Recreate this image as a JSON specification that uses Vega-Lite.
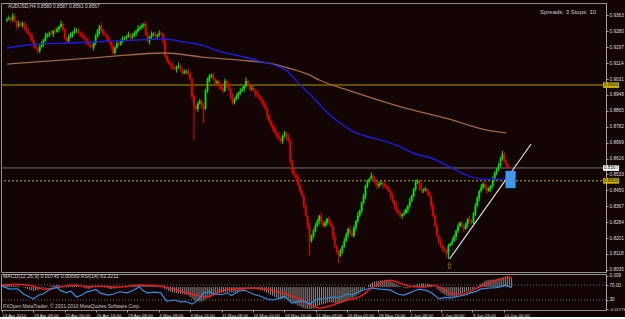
{
"$schema": "https://vega.github.io/schema/vega-lite/v6.json",
"background": "#140505",
"padding": {"left": -2, "top": 2, "right": 0, "bottom": 0},
"spacing": 2,
"bounds": "flush",
"config": {
  "view": {"stroke": "#909090", "strokeWidth": 1},
  "font": "Liberation Sans",
  "axis": {"domainColor": "#a0a0a0", "tickColor": "#a0a0a0", "labelColor": "#dcdcdc", "grid": false, "labelFont": "Liberation Sans", "labelOverlap": false, "labelSeparation": 0}
},
"datasets": {
"candles": [
{"i":0,"o":0.9338,"h":0.9352,"l":0.9328,"c":0.9344,"m":0.0020},
{"i":1,"o":0.9344,"h":0.9362,"l":0.9338,"c":0.9350,"m":0.0021},
{"i":2,"o":0.9350,"h":0.9356,"l":0.9326,"c":0.9341,"m":0.0020},
{"i":3,"o":0.9341,"h":0.9375,"l":0.9331,"c":0.9360,"m":0.0022},
{"i":4,"o":0.9360,"h":0.9370,"l":0.9327,"c":0.9332,"m":0.0019},
{"i":5,"o":0.9332,"h":0.9337,"l":0.9290,"c":0.9308,"m":0.0015},
{"i":6,"o":0.9308,"h":0.9336,"l":0.9299,"c":0.9318,"m":0.0013},
{"i":7,"o":0.9318,"h":0.9327,"l":0.9304,"c":0.9312,"m":0.0011},
{"i":8,"o":0.9312,"h":0.9331,"l":0.9300,"c":0.9323,"m":0.0010},
{"i":9,"o":0.9323,"h":0.9329,"l":0.9286,"c":0.9301,"m":0.0006},
{"i":10,"o":0.9301,"h":0.9316,"l":0.9272,"c":0.9282,"m":0.0002},
{"i":11,"o":0.9282,"h":0.9292,"l":0.9265,"c":0.9270,"m":-0.0003},
{"i":12,"o":0.9270,"h":0.9275,"l":0.9237,"c":0.9255,"m":-0.0008},
{"i":13,"o":0.9255,"h":0.9273,"l":0.9222,"c":0.9231,"m":-0.0014},
{"i":14,"o":0.9231,"h":0.9239,"l":0.9191,"c":0.9203,"m":-0.0020},
{"i":15,"o":0.9203,"h":0.9215,"l":0.9184,"c":0.9190,"m":-0.0025},
{"i":16,"o":0.9190,"h":0.9196,"l":0.9162,"c":0.9177,"m":-0.0030},
{"i":17,"o":0.9177,"h":0.9215,"l":0.9167,"c":0.9200,"m":-0.0028},
{"i":18,"o":0.9200,"h":0.9229,"l":0.9195,"c":0.9219,"m":-0.0024},
{"i":19,"o":0.9219,"h":0.9241,"l":0.9201,"c":0.9236,"m":-0.0019},
{"i":20,"o":0.9236,"h":0.9273,"l":0.9227,"c":0.9255,"m":-0.0013},
{"i":21,"o":0.9255,"h":0.9271,"l":0.9247,"c":0.9262,"m":-0.0008},
{"i":22,"o":0.9262,"h":0.9279,"l":0.9250,"c":0.9271,"m":-0.0004},
{"i":23,"o":0.9271,"h":0.9283,"l":0.9260,"c":0.9266,"m":0.0000},
{"i":24,"o":0.9266,"h":0.9288,"l":0.9251,"c":0.9282,"m":0.0004},
{"i":25,"o":0.9282,"h":0.9297,"l":0.9268,"c":0.9278,"m":0.0007},
{"i":26,"o":0.9278,"h":0.9302,"l":0.9273,"c":0.9292,"m":0.0011},
{"i":27,"o":0.9292,"h":0.9310,"l":0.9274,"c":0.9305,"m":0.0015},
{"i":28,"o":0.9305,"h":0.9336,"l":0.9296,"c":0.9318,"m":0.0019},
{"i":29,"o":0.9318,"h":0.9327,"l":0.9282,"c":0.9290,"m":0.0017},
{"i":30,"o":0.9290,"h":0.9298,"l":0.9233,"c":0.9245,"m":0.0010},
{"i":31,"o":0.9245,"h":0.9251,"l":0.9214,"c":0.9229,"m":0.0005},
{"i":32,"o":0.9229,"h":0.9265,"l":0.9219,"c":0.9250,"m":0.0004},
{"i":33,"o":0.9250,"h":0.9276,"l":0.9245,"c":0.9266,"m":0.0005},
{"i":34,"o":0.9266,"h":0.9280,"l":0.9248,"c":0.9275,"m":0.0007},
{"i":35,"o":0.9275,"h":0.9300,"l":0.9266,"c":0.9282,"m":0.0009},
{"i":36,"o":0.9282,"h":0.9296,"l":0.9272,"c":0.9288,"m":0.0011},
{"i":37,"o":0.9288,"h":0.9300,"l":0.9265,"c":0.9271,"m":0.0010},
{"i":38,"o":0.9271,"h":0.9277,"l":0.9250,"c":0.9265,"m":0.0008},
{"i":39,"o":0.9265,"h":0.9280,"l":0.9245,"c":0.9255,"m":0.0006},
{"i":40,"o":0.9255,"h":0.9265,"l":0.9237,"c":0.9242,"m":0.0002},
{"i":41,"o":0.9242,"h":0.9247,"l":0.9211,"c":0.9229,"m":-0.0002},
{"i":42,"o":0.9229,"h":0.9247,"l":0.9205,"c":0.9214,"m":-0.0007},
{"i":43,"o":0.9214,"h":0.9222,"l":0.9195,"c":0.9203,"m":-0.0011},
{"i":44,"o":0.9203,"h":0.9215,"l":0.9189,"c":0.9195,"m":-0.0014},
{"i":45,"o":0.9195,"h":0.9225,"l":0.9180,"c":0.9219,"m":-0.0012},
{"i":46,"o":0.9219,"h":0.9267,"l":0.9209,"c":0.9252,"m":-0.0007},
{"i":47,"o":0.9252,"h":0.9292,"l":0.9247,"c":0.9282,"m":0.0000},
{"i":48,"o":0.9282,"h":0.9313,"l":0.9264,"c":0.9308,"m":0.0006},
{"i":49,"o":0.9308,"h":0.9326,"l":0.9276,"c":0.9285,"m":0.0006},
{"i":50,"o":0.9285,"h":0.9293,"l":0.9258,"c":0.9266,"m":0.0004},
{"i":51,"o":0.9266,"h":0.9278,"l":0.9252,"c":0.9258,"m":0.0002},
{"i":52,"o":0.9258,"h":0.9264,"l":0.9225,"c":0.9240,"m":-0.0001},
{"i":53,"o":0.9240,"h":0.9255,"l":0.9215,"c":0.9225,"m":-0.0004},
{"i":54,"o":0.9225,"h":0.9230,"l":0.9185,"c":0.9203,"m":-0.0009},
{"i":55,"o":0.9203,"h":0.9221,"l":0.9158,"c":0.9167,"m":-0.0015},
{"i":56,"o":0.9167,"h":0.9203,"l":0.9159,"c":0.9195,"m":-0.0015},
{"i":57,"o":0.9195,"h":0.9231,"l":0.9189,"c":0.9219,"m":-0.0012},
{"i":58,"o":0.9219,"h":0.9225,"l":0.9200,"c":0.9210,"m":-0.0011},
{"i":59,"o":0.9210,"h":0.9239,"l":0.9205,"c":0.9229,"m":-0.0008},
{"i":60,"o":0.9229,"h":0.9256,"l":0.9220,"c":0.9238,"m":-0.0006},
{"i":61,"o":0.9238,"h":0.9254,"l":0.9230,"c":0.9245,"m":-0.0003},
{"i":62,"o":0.9245,"h":0.9260,"l":0.9235,"c":0.9252,"m":-0.0001},
{"i":63,"o":0.9252,"h":0.9278,"l":0.9246,"c":0.9266,"m":0.0002},
{"i":64,"o":0.9266,"h":0.9272,"l":0.9233,"c":0.9248,"m":0.0002},
{"i":65,"o":0.9248,"h":0.9270,"l":0.9238,"c":0.9255,"m":0.0003},
{"i":66,"o":0.9255,"h":0.9280,"l":0.9250,"c":0.9270,"m":0.0006},
{"i":67,"o":0.9270,"h":0.9287,"l":0.9252,"c":0.9282,"m":0.0009},
{"i":68,"o":0.9282,"h":0.9312,"l":0.9273,"c":0.9294,"m":0.0013},
{"i":69,"o":0.9294,"h":0.9311,"l":0.9286,"c":0.9302,"m":0.0016},
{"i":70,"o":0.9302,"h":0.9321,"l":0.9290,"c":0.9313,"m":0.0019},
{"i":71,"o":0.9313,"h":0.9324,"l":0.9298,"c":0.9318,"m":0.0022},
{"i":72,"o":0.9318,"h":0.9333,"l":0.9256,"c":0.9266,"m":0.0018},
{"i":73,"o":0.9266,"h":0.9276,"l":0.9224,"c":0.9229,"m":0.0012},
{"i":74,"o":0.9229,"h":0.9255,"l":0.9211,"c":0.9250,"m":0.0011},
{"i":75,"o":0.9250,"h":0.9280,"l":0.9241,"c":0.9262,"m":0.0011},
{"i":76,"o":0.9262,"h":0.9275,"l":0.9254,"c":0.9266,"m":0.0011},
{"i":77,"o":0.9266,"h":0.9278,"l":0.9243,"c":0.9255,"m":0.0010},
{"i":78,"o":0.9255,"h":0.9267,"l":0.9240,"c":0.9261,"m":0.0010},
{"i":79,"o":0.9261,"h":0.9285,"l":0.9251,"c":0.9270,"m":0.0011},
{"i":80,"o":0.9270,"h":0.9280,"l":0.9261,"c":0.9266,"m":0.0011},
{"i":81,"o":0.9266,"h":0.9271,"l":0.9211,"c":0.9229,"m":0.0007},
{"i":82,"o":0.9229,"h":0.9247,"l":0.9142,"c":0.9151,"m":-0.0004},
{"i":83,"o":0.9151,"h":0.9159,"l":0.9117,"c":0.9125,"m":-0.0014},
{"i":84,"o":0.9125,"h":0.9137,"l":0.9106,"c":0.9112,"m":-0.0023},
{"i":85,"o":0.9112,"h":0.9118,"l":0.9084,"c":0.9099,"m":-0.0031},
{"i":86,"o":0.9099,"h":0.9114,"l":0.9080,"c":0.9090,"m":-0.0038},
{"i":87,"o":0.9090,"h":0.9100,"l":0.9078,"c":0.9083,"m":-0.0043},
{"i":88,"o":0.9083,"h":0.9100,"l":0.9065,"c":0.9095,"m":-0.0046},
{"i":89,"o":0.9095,"h":0.9117,"l":0.9086,"c":0.9099,"m":-0.0048},
{"i":90,"o":0.9099,"h":0.9108,"l":0.9070,"c":0.9078,"m":-0.0052},
{"i":91,"o":0.9078,"h":0.9086,"l":0.9050,"c":0.9062,"m":-0.0056},
{"i":92,"o":0.9062,"h":0.9082,"l":0.9057,"c":0.9070,"m":-0.0058},
{"i":93,"o":0.9070,"h":0.9079,"l":0.9058,"c":0.9073,"m":-0.0059},
{"i":94,"o":0.9073,"h":0.9088,"l":0.9048,"c":0.9058,"m":-0.0062},
{"i":95,"o":0.9058,"h":0.9068,"l":0.9026,"c":0.9031,"m":-0.0067},
{"i":96,"o":0.9031,"h":0.9036,"l":0.8925,"c":0.8943,"m":-0.0080},
{"i":97,"o":0.8943,"h":0.8952,"l":0.8710,"c":0.8890,"m":-0.0094},
{"i":98,"o":0.8890,"h":0.8898,"l":0.8863,"c":0.8875,"m":-0.0106},
{"i":99,"o":0.8875,"h":0.8914,"l":0.8860,"c":0.8902,"m":-0.0111},
{"i":100,"o":0.8902,"h":0.8926,"l":0.8897,"c":0.8916,"m":-0.0113},
{"i":101,"o":0.8916,"h":0.8922,"l":0.8875,"c":0.8890,"m":-0.0116},
{"i":102,"o":0.8890,"h":0.8905,"l":0.8800,"c":0.8875,"m":-0.0118},
{"i":103,"o":0.8875,"h":0.8979,"l":0.8870,"c":0.8969,"m":-0.0110},
{"i":104,"o":0.8969,"h":0.9039,"l":0.8960,"c":0.9021,"m":-0.0098},
{"i":105,"o":0.9021,"h":0.9056,"l":0.9013,"c":0.9047,"m":-0.0085},
{"i":106,"o":0.9047,"h":0.9060,"l":0.9035,"c":0.9052,"m":-0.0074},
{"i":107,"o":0.9052,"h":0.9064,"l":0.9024,"c":0.9030,"m":-0.0067},
{"i":108,"o":0.9030,"h":0.9036,"l":0.8995,"c":0.9010,"m":-0.0062},
{"i":109,"o":0.9010,"h":0.9028,"l":0.9005,"c":0.9018,"m":-0.0056},
{"i":110,"o":0.9018,"h":0.9023,"l":0.8977,"c":0.8995,"m":-0.0053},
{"i":111,"o":0.8995,"h":0.9013,"l":0.8973,"c":0.8982,"m":-0.0051},
{"i":112,"o":0.8982,"h":0.8990,"l":0.8957,"c":0.8969,"m":-0.0050},
{"i":113,"o":0.8969,"h":0.9033,"l":0.8963,"c":0.9021,"m":-0.0043},
{"i":114,"o":0.9021,"h":0.9027,"l":0.8985,"c":0.9000,"m":-0.0040},
{"i":115,"o":0.9000,"h":0.9015,"l":0.8969,"c":0.8979,"m":-0.0039},
{"i":116,"o":0.8979,"h":0.8984,"l":0.8922,"c":0.8940,"m":-0.0042},
{"i":117,"o":0.8940,"h":0.8958,"l":0.8897,"c":0.8906,"m":-0.0046},
{"i":118,"o":0.8906,"h":0.8933,"l":0.8898,"c":0.8925,"m":-0.0045},
{"i":119,"o":0.8925,"h":0.8955,"l":0.8920,"c":0.8943,"m":-0.0042},
{"i":120,"o":0.8943,"h":0.8964,"l":0.8928,"c":0.8958,"m":-0.0038},
{"i":121,"o":0.8958,"h":0.8984,"l":0.8948,"c":0.8969,"m":-0.0034},
{"i":122,"o":0.8969,"h":0.8990,"l":0.8964,"c":0.8980,"m":-0.0030},
{"i":123,"o":0.8980,"h":0.9000,"l":0.8962,"c":0.8995,"m":-0.0025},
{"i":124,"o":0.8995,"h":0.9039,"l":0.8986,"c":0.9021,"m":-0.0019},
{"i":125,"o":0.9021,"h":0.9029,"l":0.8990,"c":0.8998,"m":-0.0017},
{"i":126,"o":0.8998,"h":0.9006,"l":0.8967,"c":0.8979,"m":-0.0016},
{"i":127,"o":0.8979,"h":0.9000,"l":0.8969,"c":0.8985,"m":-0.0014},
{"i":128,"o":0.8985,"h":0.8995,"l":0.8964,"c":0.8969,"m":-0.0014},
{"i":129,"o":0.8969,"h":0.8974,"l":0.8937,"c":0.8955,"m":-0.0015},
{"i":130,"o":0.8955,"h":0.8973,"l":0.8934,"c":0.8943,"m":-0.0017},
{"i":131,"o":0.8943,"h":0.8951,"l":0.8922,"c":0.8930,"m":-0.0020},
{"i":132,"o":0.8930,"h":0.8942,"l":0.8904,"c":0.8916,"m":-0.0024},
{"i":133,"o":0.8916,"h":0.8926,"l":0.8888,"c":0.8898,"m":-0.0029},
{"i":134,"o":0.8898,"h":0.8913,"l":0.8870,"c":0.8875,"m":-0.0035},
{"i":135,"o":0.8875,"h":0.8885,"l":0.8822,"c":0.8840,"m":-0.0044},
{"i":136,"o":0.8840,"h":0.8845,"l":0.8803,"c":0.8812,"m":-0.0053},
{"i":137,"o":0.8812,"h":0.8820,"l":0.8778,"c":0.8790,"m":-0.0062},
{"i":138,"o":0.8790,"h":0.8802,"l":0.8755,"c":0.8770,"m":-0.0070},
{"i":139,"o":0.8770,"h":0.8785,"l":0.8742,"c":0.8752,"m":-0.0078},
{"i":140,"o":0.8752,"h":0.8757,"l":0.8716,"c":0.8734,"m":-0.0085},
{"i":141,"o":0.8734,"h":0.8752,"l":0.8711,"c":0.8720,"m":-0.0091},
{"i":142,"o":0.8720,"h":0.8728,"l":0.8696,"c":0.8708,"m":-0.0096},
{"i":143,"o":0.8708,"h":0.8741,"l":0.8693,"c":0.8735,"m":-0.0095},
{"i":144,"o":0.8735,"h":0.8760,"l":0.8725,"c":0.8750,"m":-0.0092},
{"i":145,"o":0.8750,"h":0.8755,"l":0.8710,"c":0.8728,"m":-0.0093},
{"i":146,"o":0.8728,"h":0.8746,"l":0.8699,"c":0.8708,"m":-0.0095},
{"i":147,"o":0.8708,"h":0.8716,"l":0.8590,"c":0.8603,"m":-0.0109},
{"i":148,"o":0.8603,"h":0.8609,"l":0.8536,"c":0.8551,"m":-0.0122},
{"i":149,"o":0.8551,"h":0.8566,"l":0.8520,"c":0.8530,"m":-0.0132},
{"i":150,"o":0.8530,"h":0.8535,"l":0.8497,"c":0.8515,"m":-0.0140},
{"i":151,"o":0.8515,"h":0.8533,"l":0.8471,"c":0.8480,"m":-0.0149},
{"i":152,"o":0.8480,"h":0.8488,"l":0.8435,"c":0.8447,"m":-0.0156},
{"i":153,"o":0.8447,"h":0.8459,"l":0.8415,"c":0.8421,"m":-0.0163},
{"i":154,"o":0.8421,"h":0.8427,"l":0.8355,"c":0.8370,"m":-0.0170},
{"i":155,"o":0.8370,"h":0.8380,"l":0.8312,"c":0.8317,"m":-0.0174},
{"i":156,"o":0.8317,"h":0.8322,"l":0.8246,"c":0.8264,"m":-0.0176},
{"i":157,"o":0.8264,"h":0.8282,"l":0.8110,"c":0.8186,"m":-0.0178},
{"i":158,"o":0.8186,"h":0.8220,"l":0.8178,"c":0.8212,"m":-0.0175},
{"i":159,"o":0.8212,"h":0.8248,"l":0.8200,"c":0.8240,"m":-0.0170},
{"i":160,"o":0.8240,"h":0.8279,"l":0.8230,"c":0.8264,"m":-0.0163},
{"i":161,"o":0.8264,"h":0.8300,"l":0.8259,"c":0.8290,"m":-0.0155},
{"i":162,"o":0.8290,"h":0.8322,"l":0.8272,"c":0.8317,"m":-0.0146},
{"i":163,"o":0.8317,"h":0.8335,"l":0.8276,"c":0.8285,"m":-0.0142},
{"i":164,"o":0.8285,"h":0.8293,"l":0.8256,"c":0.8264,"m":-0.0139},
{"i":165,"o":0.8264,"h":0.8292,"l":0.8258,"c":0.8280,"m":-0.0134},
{"i":166,"o":0.8280,"h":0.8307,"l":0.8265,"c":0.8301,"m":-0.0128},
{"i":167,"o":0.8301,"h":0.8316,"l":0.8272,"c":0.8282,"m":-0.0125},
{"i":168,"o":0.8282,"h":0.8292,"l":0.8259,"c":0.8264,"m":-0.0124},
{"i":169,"o":0.8264,"h":0.8269,"l":0.8194,"c":0.8212,"m":-0.0126},
{"i":170,"o":0.8212,"h":0.8230,"l":0.8151,"c":0.8160,"m":-0.0130},
{"i":171,"o":0.8160,"h":0.8168,"l":0.8122,"c":0.8130,"m":-0.0133},
{"i":172,"o":0.8130,"h":0.8142,"l":0.8070,"c":0.8108,"m":-0.0134},
{"i":173,"o":0.8108,"h":0.8144,"l":0.8103,"c":0.8134,"m":-0.0131},
{"i":174,"o":0.8134,"h":0.8165,"l":0.8119,"c":0.8160,"m":-0.0125},
{"i":175,"o":0.8160,"h":0.8201,"l":0.8150,"c":0.8186,"m":-0.0118},
{"i":176,"o":0.8186,"h":0.8230,"l":0.8181,"c":0.8220,"m":-0.0109},
{"i":177,"o":0.8220,"h":0.8255,"l":0.8202,"c":0.8249,"m":-0.0099},
{"i":178,"o":0.8249,"h":0.8267,"l":0.8221,"c":0.8230,"m":-0.0092},
{"i":179,"o":0.8230,"h":0.8238,"l":0.8204,"c":0.8212,"m":-0.0087},
{"i":180,"o":0.8212,"h":0.8267,"l":0.8206,"c":0.8255,"m":-0.0078},
{"i":181,"o":0.8255,"h":0.8295,"l":0.8237,"c":0.8290,"m":-0.0067},
{"i":182,"o":0.8290,"h":0.8336,"l":0.8281,"c":0.8318,"m":-0.0055},
{"i":183,"o":0.8318,"h":0.8351,"l":0.8310,"c":0.8343,"m":-0.0043},
{"i":184,"o":0.8343,"h":0.8393,"l":0.8331,"c":0.8385,"m":-0.0029},
{"i":185,"o":0.8385,"h":0.8433,"l":0.8379,"c":0.8421,"m":-0.0015},
{"i":186,"o":0.8421,"h":0.8479,"l":0.8406,"c":0.8473,"m":0.0001},
{"i":187,"o":0.8473,"h":0.8505,"l":0.8463,"c":0.8495,"m":0.0015},
{"i":188,"o":0.8495,"h":0.8515,"l":0.8490,"c":0.8510,"m":0.0027},
{"i":189,"o":0.8510,"h":0.8543,"l":0.8508,"c":0.8525,"m":0.0038},
{"i":190,"o":0.8525,"h":0.8534,"l":0.8502,"c":0.8510,"m":0.0045},
{"i":191,"o":0.8510,"h":0.8518,"l":0.8478,"c":0.8490,"m":0.0049},
{"i":192,"o":0.8490,"h":0.8496,"l":0.8458,"c":0.8473,"m":0.0051},
{"i":193,"o":0.8473,"h":0.8497,"l":0.8463,"c":0.8482,"m":0.0054},
{"i":194,"o":0.8482,"h":0.8499,"l":0.8477,"c":0.8489,"m":0.0056},
{"i":195,"o":0.8489,"h":0.8494,"l":0.8462,"c":0.8480,"m":0.0056},
{"i":196,"o":0.8480,"h":0.8498,"l":0.8464,"c":0.8473,"m":0.0055},
{"i":197,"o":0.8473,"h":0.8481,"l":0.8452,"c":0.8460,"m":0.0053},
{"i":198,"o":0.8460,"h":0.8472,"l":0.8441,"c":0.8447,"m":0.0049},
{"i":199,"o":0.8447,"h":0.8453,"l":0.8405,"c":0.8420,"m":0.0043},
{"i":200,"o":0.8420,"h":0.8435,"l":0.8385,"c":0.8395,"m":0.0035},
{"i":201,"o":0.8395,"h":0.8400,"l":0.8352,"c":0.8370,"m":0.0026},
{"i":202,"o":0.8370,"h":0.8388,"l":0.8334,"c":0.8343,"m":0.0016},
{"i":203,"o":0.8343,"h":0.8351,"l":0.8322,"c":0.8330,"m":0.0007},
{"i":204,"o":0.8330,"h":0.8342,"l":0.8305,"c":0.8317,"m":-0.0001},
{"i":205,"o":0.8317,"h":0.8331,"l":0.8302,"c":0.8325,"m":-0.0006},
{"i":206,"o":0.8325,"h":0.8347,"l":0.8315,"c":0.8332,"m":-0.0009},
{"i":207,"o":0.8332,"h":0.8360,"l":0.8327,"c":0.8350,"m":-0.0009},
{"i":208,"o":0.8350,"h":0.8374,"l":0.8332,"c":0.8369,"m":-0.0006},
{"i":209,"o":0.8369,"h":0.8413,"l":0.8360,"c":0.8395,"m":-0.0001},
{"i":210,"o":0.8395,"h":0.8429,"l":0.8387,"c":0.8421,"m":0.0006},
{"i":211,"o":0.8421,"h":0.8463,"l":0.8415,"c":0.8455,"m":0.0014},
{"i":212,"o":0.8455,"h":0.8504,"l":0.8445,"c":0.8489,"m":0.0022},
{"i":213,"o":0.8489,"h":0.8509,"l":0.8484,"c":0.8499,"m":0.0028},
{"i":214,"o":0.8499,"h":0.8504,"l":0.8452,"c":0.8470,"m":0.0030},
{"i":215,"o":0.8470,"h":0.8488,"l":0.8438,"c":0.8447,"m":0.0029},
{"i":216,"o":0.8447,"h":0.8460,"l":0.8435,"c":0.8452,"m":0.0028},
{"i":217,"o":0.8452,"h":0.8469,"l":0.8446,"c":0.8457,"m":0.0027},
{"i":218,"o":0.8457,"h":0.8463,"l":0.8425,"c":0.8440,"m":0.0024},
{"i":219,"o":0.8440,"h":0.8450,"l":0.8416,"c":0.8421,"m":0.0019},
{"i":220,"o":0.8421,"h":0.8426,"l":0.8352,"c":0.8370,"m":0.0010},
{"i":221,"o":0.8370,"h":0.8388,"l":0.8308,"c":0.8317,"m":-0.0002},
{"i":222,"o":0.8317,"h":0.8325,"l":0.8257,"c":0.8265,"m":-0.0016},
{"i":223,"o":0.8265,"h":0.8277,"l":0.8206,"c":0.8212,"m":-0.0030},
{"i":224,"o":0.8212,"h":0.8218,"l":0.8170,"c":0.8185,"m":-0.0043},
{"i":225,"o":0.8185,"h":0.8200,"l":0.8150,"c":0.8160,"m":-0.0054},
{"i":226,"o":0.8160,"h":0.8165,"l":0.8130,"c":0.8148,"m":-0.0063},
{"i":227,"o":0.8148,"h":0.8157,"l":0.8126,"c":0.8134,"m":-0.0071},
{"i":228,"o":0.8134,"h":0.8142,"l":0.8100,"c":0.8120,"m":-0.0078},
{"i":229,"o":0.8120,"h":0.8172,"l":0.8092,"c":0.8160,"m":-0.0080},
{"i":230,"o":0.8160,"h":0.8178,"l":0.8157,"c":0.8172,"m":-0.0080},
{"i":231,"o":0.8172,"h":0.8201,"l":0.8162,"c":0.8186,"m":-0.0078},
{"i":232,"o":0.8186,"h":0.8220,"l":0.8181,"c":0.8210,"m":-0.0073},
{"i":233,"o":0.8210,"h":0.8244,"l":0.8192,"c":0.8238,"m":-0.0066},
{"i":234,"o":0.8238,"h":0.8277,"l":0.8228,"c":0.8262,"m":-0.0057},
{"i":235,"o":0.8262,"h":0.8288,"l":0.8257,"c":0.8280,"m":-0.0048},
{"i":236,"o":0.8280,"h":0.8292,"l":0.8259,"c":0.8265,"m":-0.0042},
{"i":237,"o":0.8265,"h":0.8270,"l":0.8234,"c":0.8249,"m":-0.0038},
{"i":238,"o":0.8249,"h":0.8285,"l":0.8244,"c":0.8275,"m":-0.0031},
{"i":239,"o":0.8275,"h":0.8307,"l":0.8257,"c":0.8301,"m":-0.0022},
{"i":240,"o":0.8301,"h":0.8319,"l":0.8281,"c":0.8290,"m":-0.0016},
{"i":241,"o":0.8290,"h":0.8298,"l":0.8272,"c":0.8280,"m":-0.0011},
{"i":242,"o":0.8280,"h":0.8337,"l":0.8274,"c":0.8325,"m":-0.0002},
{"i":243,"o":0.8325,"h":0.8384,"l":0.8315,"c":0.8369,"m":0.0010},
{"i":244,"o":0.8369,"h":0.8420,"l":0.8364,"c":0.8410,"m":0.0023},
{"i":245,"o":0.8410,"h":0.8452,"l":0.8392,"c":0.8447,"m":0.0036},
{"i":246,"o":0.8447,"h":0.8483,"l":0.8438,"c":0.8465,"m":0.0046},
{"i":247,"o":0.8465,"h":0.8491,"l":0.8457,"c":0.8483,"m":0.0054},
{"i":248,"o":0.8483,"h":0.8491,"l":0.8457,"c":0.8465,"m":0.0058},
{"i":249,"o":0.8465,"h":0.8477,"l":0.8432,"c":0.8447,"m":0.0059},
{"i":250,"o":0.8447,"h":0.8470,"l":0.8442,"c":0.8460,"m":0.0060},
{"i":251,"o":0.8460,"h":0.8478,"l":0.8442,"c":0.8473,"m":0.0061},
{"i":252,"o":0.8473,"h":0.8523,"l":0.8464,"c":0.8505,"m":0.0063},
{"i":253,"o":0.8505,"h":0.8549,"l":0.8497,"c":0.8541,"m":0.0068},
{"i":254,"o":0.8541,"h":0.8568,"l":0.8529,"c":0.8560,"m":0.0072},
{"i":255,"o":0.8560,"h":0.8592,"l":0.8550,"c":0.8577,"m":0.0077},
{"i":256,"o":0.8577,"h":0.8624,"l":0.8572,"c":0.8614,"m":0.0083},
{"i":257,"o":0.8614,"h":0.8656,"l":0.8605,"c":0.8640,"m":0.0089},
{"i":258,"o":0.8640,"h":0.8649,"l":0.8595,"c":0.8603,"m":0.0088},
{"i":259,"o":0.8603,"h":0.8610,"l":0.8572,"c":0.8580,"m":0.0083},
{"i":260,"o":0.8580,"h":0.8587,"l":0.8561,"c":0.8567,"m":0.00745}
],
"blue": [
{"i":0,"v":0.9193},{"i":16,"v":0.9214},{"i":33,"v":0.9219},{"i":50,"v":0.9227},{"i":67,"v":0.9235},{"i":81,"v":0.9240},{"i":92,"v":0.9224},{"i":101,"v":0.9208},{"i":110,"v":0.9177},{"i":121,"v":0.9151},{"i":131,"v":0.9125},{"i":145,"v":0.9075},{"i":152,"v":0.9002},{"i":159,"v":0.8932},{"i":167,"v":0.8849},{"i":175,"v":0.8786},{"i":180,"v":0.8755},{"i":186,"v":0.8734},{"i":195,"v":0.8710},{"i":203,"v":0.8682},{"i":212,"v":0.8640},{"i":220,"v":0.8619},{"i":229,"v":0.8577},{"i":237,"v":0.8535},{"i":245,"v":0.8510},{"i":252,"v":0.8508},{"i":260,"v":0.8510}
],
"brown": [
{"i":0,"v":0.9109},{"i":21,"v":0.9125},{"i":50,"v":0.9146},{"i":82,"v":0.9167},{"i":101,"v":0.9146},{"i":121,"v":0.9130},{"i":135,"v":0.9115},{"i":148,"v":0.9083},{"i":156,"v":0.9057},{"i":162,"v":0.9026},{"i":178,"v":0.8969},{"i":203,"v":0.8890},{"i":229,"v":0.8823},{"i":249,"v":0.8765},{"i":259,"v":0.8750}
],
"rsi": [
{"i":0,"r":67},{"i":4,"r":59},{"i":8,"r":60},{"i":11,"r":46},{"i":14,"r":38},{"i":16,"r":33},{"i":19,"r":44},{"i":21,"r":46},{"i":24,"r":57},{"i":28,"r":64},{"i":30,"r":55},{"i":33,"r":49},{"i":35,"r":54},{"i":38,"r":38},{"i":41,"r":44},{"i":43,"r":51},{"i":46,"r":55},{"i":48,"r":58},{"i":50,"r":49},{"i":54,"r":43},{"i":57,"r":46},{"i":60,"r":52},{"i":64,"r":49},{"i":67,"r":56},{"i":70,"r":65},{"i":72,"r":55},{"i":74,"r":49},{"i":78,"r":51},{"i":81,"r":49},{"i":84,"r":27},{"i":88,"r":30},{"i":91,"r":25},{"i":94,"r":26},{"i":97,"r":19},{"i":100,"r":30},{"i":103,"r":49},{"i":106,"r":52},{"i":108,"r":46},{"i":112,"r":44},{"i":115,"r":49},{"i":117,"r":42},{"i":121,"r":54},{"i":124,"r":56},{"i":128,"r":46},{"i":132,"r":40},{"i":135,"r":33},{"i":138,"r":30},{"i":142,"r":35},{"i":144,"r":40},{"i":148,"r":22},{"i":152,"r":27},{"i":155,"r":25},{"i":157,"r":19},{"i":160,"r":30},{"i":162,"r":33},{"i":165,"r":34},{"i":169,"r":38},{"i":172,"r":36},{"i":176,"r":46},{"i":179,"r":44},{"i":183,"r":54},{"i":188,"r":62},{"i":193,"r":59},{"i":198,"r":57},{"i":202,"r":46},{"i":205,"r":43},{"i":208,"r":49},{"i":210,"r":54},{"i":213,"r":59},{"i":217,"r":55},{"i":220,"r":46},{"i":223,"r":33},{"i":226,"r":37},{"i":229,"r":35},{"i":232,"r":39},{"i":234,"r":41},{"i":237,"r":44},{"i":239,"r":49},{"i":242,"r":53},{"i":244,"r":59},{"i":247,"r":61},{"i":249,"r":62},{"i":252,"r":63},{"i":254,"r":65},{"i":257,"r":70},{"i":259,"r":65},{"i":260,"r":63.32}
],
"sig": [
{"i":0,"s":0.0016},{"i":6,"s":0.0024},{"i":16,"s":0.0008},{"i":21,"s":-0.0016},{"i":30,"s":0},{"i":36,"s":0.0016},{"i":44,"s":0.0004},{"i":50,"s":0.0008},{"i":59,"s":0},{"i":70,"s":0.0016},{"i":81,"s":0.0008},{"i":91,"s":-0.0032},{"i":101,"s":-0.0073},{"i":105,"s":-0.0081},{"i":111,"s":-0.0032},{"i":118,"s":-0.0016},{"i":128,"s":-0.0008},{"i":135,"s":-0.0016},{"i":145,"s":-0.0057},{"i":152,"s":-0.0097},{"i":157,"s":-0.0138},{"i":162,"s":-0.0170},{"i":167,"s":-0.0154},{"i":174,"s":-0.0114},{"i":183,"s":-0.0073},{"i":188,"s":-0.0016},{"i":193,"s":0.0032},{"i":198,"s":0.0057},{"i":203,"s":0.0032},{"i":208,"s":0.0008},{"i":215,"s":0},{"i":220,"s":0.0016},{"i":225,"s":-0.0016},{"i":230,"s":-0.0057},{"i":235,"s":-0.0057},{"i":240,"s":-0.0024},{"i":247,"s":0.0024},{"i":254,"s":0.0065},{"i":260,"s":0.0081}
]
},
"vconcat": [
{
  "width": 605, "height": 269,
  "resolve": {"axis": {"x": "independent", "y": "independent"}},
  "layer": [
    {
      "data": {"values": [{"p": 0.9}]},
      "mark": {"type": "rule", "color": "#b09a00", "strokeWidth": 1},
      "encoding": {"y": {"field": "p", "type": "quantitative", "scale": {"domain": [0.8024, 0.9428], "nice": false, "zero": false}, "axis": {"orient": "right", "title": null, "values": [0.8035,0.8118,0.8201,0.8284,0.8367,0.845,0.8533,0.8616,0.8699,0.8782,0.8865,0.8948,0.9031,0.9114,0.9197,0.928,0.9363], "format": ".4f", "labelFontSize": 4.7, "tickSize": 2, "labelPadding": 1, "labelFlush": false, "labelOverlap": false}}}
    },
    {
      "data": {"values": [{"p": 0.8567}]},
      "mark": {"type": "rule", "color": "#707070", "strokeWidth": 1},
      "encoding": {"y": {"field": "p", "type": "quantitative", "axis": null}}
    },
    {
      "data": {"values": [{"p": 0.85}]},
      "mark": {"type": "rule", "color": "#c0aa00", "strokeWidth": 1, "strokeDash": [2, 2]},
      "encoding": {"y": {"field": "p", "type": "quantitative", "axis": null}}
    },
    {
      "data": {"name": "candles"},
      "mark": {"type": "rule", "strokeWidth": 1},
      "encoding": {
        "x": {"field": "i", "type": "quantitative", "scale": {"domain": [-0.51, 308.16], "nice": false, "zero": false}, "axis": null},
        "y": {"field": "l", "type": "quantitative", "axis": null},
        "y2": {"field": "h"},
        "color": {"condition": {"test": "datum.c >= datum.o", "value": "#00e800"}, "value": "#e80000"}
      }
    },
    {
      "data": {"name": "candles"},
      "mark": {"type": "bar", "width": 1.8},
      "encoding": {
        "x": {"field": "i", "type": "quantitative", "axis": null},
        "y": {"field": "o", "type": "quantitative", "axis": null},
        "y2": {"field": "c"},
        "color": {"condition": {"test": "datum.c >= datum.o", "value": "#00e800"}, "value": "#e80000"}
      }
    },
    {
      "data": {"name": "brown"},
      "mark": {"type": "line", "color": "#a0683f", "strokeWidth": 1.3, "interpolate": "monotone"},
      "encoding": {"x": {"field": "i", "type": "quantitative", "axis": null}, "y": {"field": "v", "type": "quantitative", "axis": null}}
    },
    {
      "data": {"name": "blue"},
      "mark": {"type": "line", "color": "#1a1ae8", "strokeWidth": 1.4, "interpolate": "monotone"},
      "encoding": {"x": {"field": "i", "type": "quantitative", "axis": null}, "y": {"field": "v", "type": "quantitative", "axis": null}}
    },
    {
      "data": {"values": [{"i": 229.6, "p": 0.8092}, {"i": 271.9, "p": 0.8692}]},
      "mark": {"type": "line", "color": "#e8e8e8", "strokeWidth": 1.1},
      "encoding": {"x": {"field": "i", "type": "quantitative", "axis": null}, "y": {"field": "p", "type": "quantitative", "axis": null}}
    },
    {
      "data": {"values": [{"i": 258.7, "i2": 263.8, "p": 0.8551, "p2": 0.8463}]},
      "mark": {"type": "rect", "fill": "#3f97ea", "stroke": "#2f80d0", "strokeWidth": 0.5},
      "encoding": {"x": {"field": "i", "type": "quantitative", "axis": null}, "x2": {"field": "i2"}, "y": {"field": "p", "type": "quantitative", "axis": null}, "y2": {"field": "p2"}}
    },
    {
      "data": {"values": [{"i": 229.6, "p": 0.8092}]},
      "mark": {"type": "text", "text": "⇧", "font": "DejaVu Sans", "fontSize": 9, "color": "#a89400", "baseline": "top", "dy": 3},
      "encoding": {"x": {"field": "i", "type": "quantitative", "axis": null}, "y": {"field": "p", "type": "quantitative", "axis": null}}
    },
    {
      "data": {"values": [{"p": 0.9, "k": "alert"}, {"p": 0.8567, "k": "bid"}, {"p": 0.85, "k": "alert"}]},
      "mark": {"type": "point", "shape": "M-1,-0.36L1,-0.36L1,0.36L-1,0.36Z", "size": 256, "filled": true, "opacity": 1, "strokeWidth": 0},
      "encoding": {
        "x": {"datum": 313.4, "type": "quantitative", "axis": null},
        "y": {"field": "p", "type": "quantitative", "axis": null},
        "color": {"field": "k", "type": "nominal", "scale": {"domain": ["alert", "bid"], "range": ["#d2ba00", "#ffffff"]}, "legend": null}
      }
    },
    {
      "data": {"values": [{"p": 0.9, "t": "0.9000"}, {"p": 0.8567, "t": "0.8567"}, {"p": 0.85, "t": "0.8500"}]},
      "mark": {"type": "text", "fontSize": 4.7, "color": "#000000", "align": "center", "baseline": "middle"},
      "encoding": {
        "x": {"datum": 313.4, "type": "quantitative", "axis": null},
        "y": {"field": "p", "type": "quantitative", "axis": null},
        "text": {"field": "t"}
      }
    },
    {
      "data": {"values": [{"t": "AUDUSD,H4 0.8580 0.8587 0.8561 0.8567"}]},
      "mark": {"type": "text", "fontSize": 4.8, "color": "#d4d4d4", "align": "left", "baseline": "middle"},
      "encoding": {
        "x": {"datum": 0.5, "type": "quantitative", "axis": null},
        "y": {"datum": 0.9407, "type": "quantitative", "axis": null},
        "text": {"field": "t"}
      }
    },
    {
      "data": {"values": [{"t": "Spreads: 3 Stops: 10"}]},
      "mark": {"type": "text", "fontSize": 6, "color": "#c8c8c8", "align": "right", "baseline": "middle"},
      "encoding": {
        "x": {"datum": 305.6, "type": "quantitative", "axis": null},
        "y": {"datum": 0.9383, "type": "quantitative", "axis": null},
        "text": {"field": "t"}
      }
    }
  ]
},
{
  "width": 605, "height": 36,
  "resolve": {"scale": {"y": "independent"}, "axis": {"x": "independent", "y": "independent"}},
  "layer": [
    {
      "data": {"name": "candles"},
      "mark": {"type": "rule", "color": "#a8a8a8", "strokeWidth": 0.8},
      "encoding": {
        "x": {"field": "i", "type": "quantitative", "scale": {"domain": [-0.51, 308.16], "nice": false, "zero": false}, "axis": {"orient": "bottom", "title": null, "values": [0,16,32,48,64,80,96,112,128,144,160,176,192,208,224,240,256], "labelExpr": "['14 Apr 2010','19 Apr 08:00','22 Apr 00:00','26 Apr 16:00','29 Apr 08:00','4 May 08:00','6 May 16:00','11 May 08:00','14 May 00:00','18 May 16:00','21 May 08:00','26 May 00:00','28 May 16:00','2 Jun 08:00','7 Jun 00:00','9 Jun 16:00','14 Jun 00:00'][round(datum.value/16)]", "labelAlign": "left", "labelBaseline": "top", "labelFontSize": 4.4, "tickSize": 2, "labelPadding": 1, "labelFlush": false, "labelOverlap": false, "domain": false}},
        "y": {"field": "m", "type": "quantitative", "scale": {"domain": [-0.01857, 0.01062], "nice": false, "zero": false}, "axis": {"orient": "right", "title": null, "values": [0.009, 0.0017, -0.01046, -0.01776], "labelExpr": "datum.value > 0.005 ? '0.009' : datum.value > 0 ? '70.00' : datum.value > -0.015 ? '30' : '-0.01776'", "labelFontSize": {"condition": {"test": "datum.value < -0.015", "value": 4.1}, "value": 4.7}, "tickSize": 2, "labelPadding": 1, "labelFlush": false, "labelOverlap": false}},
        "y2": {"datum": 0}
      }
    },
    {
      "data": {"values": [{"lv": 70}, {"lv": 30}]},
      "mark": {"type": "rule", "color": "#6a6a6a", "strokeWidth": 1, "strokeDash": [1, 2]},
      "encoding": {"y": {"field": "lv", "type": "quantitative", "scale": {"domain": [3.33, 99.33], "nice": false, "zero": false}, "axis": null}}
    },
    {
      "data": {"name": "sig"},
      "mark": {"type": "line", "color": "#ff1a1a", "strokeWidth": 1.3, "interpolate": "monotone"},
      "encoding": {
        "x": {"field": "i", "type": "quantitative", "axis": null},
        "y": {"field": "s", "type": "quantitative", "scale": {"domain": [-0.01857, 0.01062], "nice": false, "zero": false}, "axis": null}
      }
    },
    {
      "data": {"name": "rsi"},
      "mark": {"type": "line", "color": "#2d8ee8", "strokeWidth": 1.2},
      "encoding": {
        "x": {"field": "i", "type": "quantitative", "axis": null},
        "y": {"field": "r", "type": "quantitative", "scale": {"domain": [3.33, 99.33], "nice": false, "zero": false}, "axis": null}
      }
    },
    {
      "data": {"values": [{"t": "MACD(12,26,9) 0.00745 0.00669 RSI(14) 63.3211"}]},
      "mark": {"type": "text", "fontSize": 5.2, "color": "#d0d0d0", "align": "left", "baseline": "middle"},
      "encoding": {
        "x": {"datum": 0.5, "type": "quantitative", "axis": null},
        "y": {"datum": 0.0086, "type": "quantitative", "scale": {"domain": [-0.01857, 0.01062], "nice": false, "zero": false}, "axis": null},
        "text": {"field": "t"}
      }
    },
    {
      "data": {"values": [{"t": "FXOpen MetaTrader, © 2001-2010 MetaQuotes Software Corp."}]},
      "mark": {"type": "text", "fontSize": 4.9, "color": "#c4c4c4", "align": "left", "baseline": "middle"},
      "encoding": {
        "x": {"datum": 0.5, "type": "quantitative", "axis": null},
        "y": {"datum": -0.01614, "type": "quantitative", "scale": {"domain": [-0.01857, 0.01062], "nice": false, "zero": false}, "axis": null},
        "text": {"field": "t"}
      }
    }
  ]
}
]
}
